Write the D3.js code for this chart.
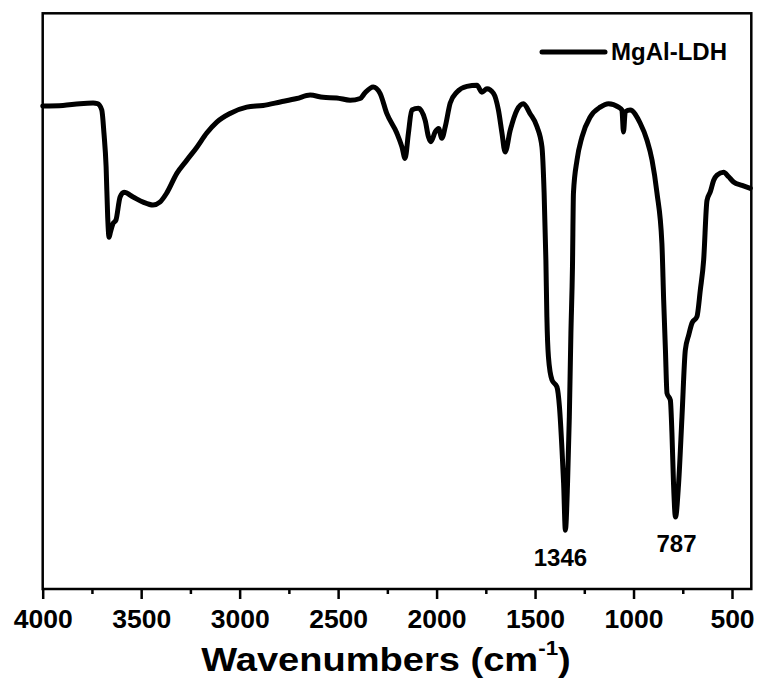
<!DOCTYPE html>
<html>
<head>
<meta charset="utf-8">
<script src="https://cdn.jsdelivr.net/npm/d3@7"></script>
<style>
  body { margin: 0; background: #fff; }
  text { font-family: "Liberation Sans", Arial, sans-serif; font-weight: bold; fill: #000; }
</style>
</head>
<body>
<div id="chart"></div>
<script>
// spectrum (wavenumber, transmittance a.u.)
var wavenumbers = [4000, 3897, 3811, 3744, 3722, 3700, 3689, 3678, 3670, 3663, 3656, 3644, 3628, 3607, 3587,
    3541, 3490, 3440, 3405, 3370, 3319, 3268, 3218, 3167, 3116, 3049, 2964, 2881, 2794, 2710, 2642, 2576,
    2507, 2439, 2388, 2363, 2322, 2287, 2253, 2202, 2176, 2160, 2143, 2126, 2092, 2058, 2041, 2029, 2007,
    1990, 1973, 1956, 1931, 1897, 1846, 1795, 1770, 1744, 1711, 1686, 1668, 1652, 1626, 1592, 1559, 1526,
    1490, 1465, 1454, 1445, 1440, 1432, 1414, 1389, 1376, 1363, 1355, 1346, 1335, 1326, 1318, 1310, 1305,
    1287, 1262, 1220, 1169, 1127, 1076, 1059, 1051, 1042, 1017, 966, 932, 906, 881, 856, 847, 838, 830,
    813, 805, 797, 787, 771, 754, 737, 720, 703, 678, 661, 644, 627, 610, 593, 576, 543, 517, 492, 449, 407];
var transmittance = [83.9, 84.0, 84.3, 84.4, 84.3, 83.2, 79.2, 73.3, 64.6, 61.1, 62.0, 63.4, 64.1, 68.1, 68.9,
    68.1, 67.2, 66.7, 67.2, 68.8, 72.2, 74.5, 76.7, 79.2, 81.1, 82.6, 83.7, 84.0, 84.6, 85.2, 85.8, 85.4,
    85.3, 84.9, 85.2, 86.2, 87.2, 86.1, 82.6, 79.2, 76.8, 74.8, 79.2, 83.2, 83.5, 81.4, 78.5, 77.7, 79.4,
    80.0, 78.3, 80.3, 84.4, 86.3, 87.3, 87.5, 86.3, 86.9, 86.1, 83.2, 79.2, 75.9, 79.7, 83.2, 84.3, 82.6,
    80.3, 76.8, 68.8, 57.1, 47.3, 40.3, 36.3, 35.1, 31.6, 24.1, 18.4, 10.2, 18.4, 29.9, 44.4, 56.0, 68.8,
    74.5, 78.5, 82.0, 83.7, 84.3, 83.7, 83.2, 79.4, 82.9, 83.2, 80.9, 78.0, 74.5, 68.8, 60.1, 50.2, 41.5, 34.0,
    32.8, 27.1, 18.4, 12.5, 18.4, 29.9, 41.5, 44.1, 46.2, 47.3, 51.9, 57.1, 67.5, 69.0, 71.0, 71.9, 72.4, 71.6, 70.7, 70.1, 69.6];

var majorTicks = [4000, 3500, 3000, 2500, 2000, 1500, 1000, 500];
var minorTicks = [3750, 3250, 2750, 2250, 1750, 1250, 750];
var peakLabels = ["1346", "787"];
var peakWn = [1346, 787];
var seriesName = "MgAl-LDH";

// set the dimensions of the plot box
var W = 758, H = 682;
var box = { left: 42.7, right: 751.3, top: 13.3, bottom: 589 };

var svg = d3.select("#chart").append("svg")
    .attr("width", W)
    .attr("height", H);

var x = d3.scaleLinear().domain([4000, 402]).range([box.left, box.right]);
var y = d3.scaleLinear().domain([0, 100]).range([box.bottom, box.top]);

var data = wavenumbers.map(function (d, i) { return { wn: d, t: transmittance[i] }; });

// minor ticks
svg.append("g")
    .attr("transform", "translate(0," + box.bottom + ")")
    .call(d3.axisBottom(x).tickValues(minorTicks).tickSize(5).tickFormat(""))
    .call(function (g) { g.select(".domain").remove(); })
    .selectAll("line").attr("stroke", "#000").attr("stroke-width", 2.5);

// major ticks + labels
var xAxis = svg.append("g")
    .attr("transform", "translate(0," + box.bottom + ")")
    .call(d3.axisBottom(x).tickValues(majorTicks).tickSize(10).tickPadding(10).tickFormat(d3.format("d")));
xAxis.select(".domain").remove();
xAxis.selectAll("line").attr("stroke", "#000").attr("stroke-width", 2.5);
xAxis.selectAll("text")
    .style("font-size", "26.5px")
    .attr("fill", "#000");

// spectrum
var line = d3.line()
    .x(function (d) { return x(d.wn); })
    .y(function (d) { return y(d.t); })
    .curve(d3.curveMonotoneX);

svg.append("path")
    .datum(data)
    .attr("fill", "none")
    .attr("stroke", "#000")
    .attr("stroke-width", 5)
    .attr("stroke-linejoin", "round")
    .attr("stroke-linecap", "round")
    .attr("d", line);

// frame
svg.append("rect")
    .attr("x", box.left)
    .attr("y", box.top)
    .attr("width", box.right - box.left)
    .attr("height", box.bottom - box.top)
    .attr("fill", "none")
    .attr("stroke", "#000")
    .attr("stroke-width", 2.5);

// peak labels, placed under each minimum
var peakDx = [-5, 1];
var peakDy = [36, 35];
svg.selectAll(".peak")
    .data(peakWn)
    .enter()
    .append("text")
    .attr("class", "peak")
    .attr("x", function (d, i) { return x(d) + peakDx[i]; })
    .attr("y", function (d, i) {
        var t = transmittance[wavenumbers.indexOf(d)];
        return y(t) + peakDy[i];
    })
    .attr("text-anchor", "middle")
    .style("font-size", "24px")
    .text(function (d, i) { return peakLabels[i]; });

// legend
svg.append("line")
    .attr("x1", 542).attr("x2", 605)
    .attr("y1", 52).attr("y2", 52)
    .attr("stroke", "#000")
    .attr("stroke-width", 5)
    .attr("stroke-linecap", "round");
svg.append("text")
    .attr("x", 611)
    .attr("y", 60)
    .style("font-size", "24px")
    .text(seriesName);

// x axis title
var title = svg.append("text")
    .attr("transform", "translate(386,671) scale(1.12,1)")
    .attr("text-anchor", "middle")
    .style("font-size", "34px");
title.append("tspan").text("Wavenumbers (cm");
title.append("tspan").attr("dy", -16).style("font-size", "20px").text("-1");
title.append("tspan").attr("dy", 16).text(")");
</script>
</body>
</html>
